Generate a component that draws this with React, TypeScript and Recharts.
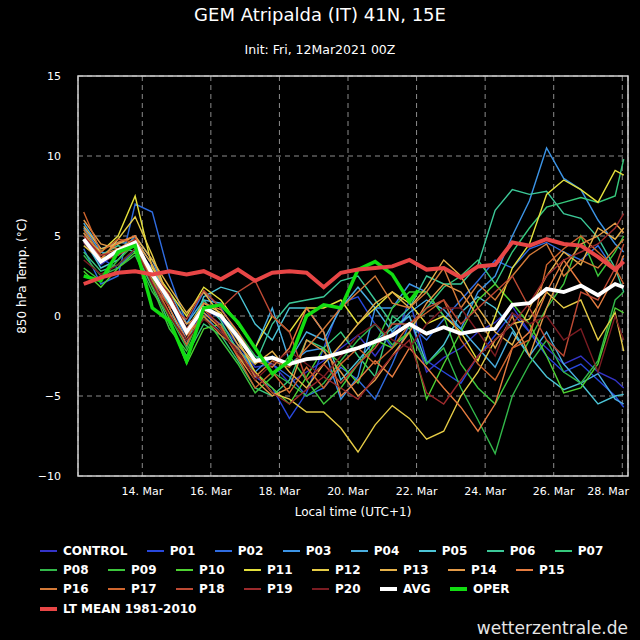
import { LineChart, Line, XAxis, YAxis, CartesianGrid, ReferenceArea, Legend } from "recharts";

// hours after the first step (12 Mar 07:00 local), 12h apart, last one +6h
const HOURS = [0, 12, 24, 36, 48, 60, 72, 84, 96, 108, 120, 132, 144, 156, 168, 180, 192, 204, 216, 228, 240, 252, 264, 276, 288, 300, 312, 324, 336, 348, 360, 372, 378];
const OPER_HOURS = [0, 12, 24, 36, 48, 60, 72, 84, 96, 108, 120, 132, 144, 156, 168, 180, 192, 204, 216, 228, 234];

const TICK_HOURS = [41, 89, 137, 185, 233, 281, 329, 377];
const TICK_LABELS = ["14. Mar", "16. Mar", "18. Mar", "20. Mar", "22. Mar", "24. Mar", "26. Mar", "28. Mar"];
const Y_TICKS = [-10, -5, 0, 5, 10, 15];

// 850 hPa temperature (°C)
const CONTROL = [4.6, 3.2, 4.0, 4.5, 2.2, 0.8, -1.2, 0.2, -0.5, -1.8, -3.2, -3.0, -4.2, -3.5, -2.8, -2.0, -1.2, -2.5, -1.0, 0.0, -3.5, -2.6, -2.0, -1.0, -0.4, 0.6, -1.0, -2.0, -3.0, -2.5, -3.5, -4.0, -4.5];
const P01 = [5.0, 3.6, 3.0, 4.2, 3.0, 1.2, -0.8, 0.5, -0.2, -1.5, -3.8, -4.5, -6.4, -4.8, -2.0, 0.8, 1.2, -0.5, -2.0, 1.0, -2.8, -3.5, -4.2, -2.5, -1.2, 0.2, -1.0, -2.5, -3.5, -3.0, -4.0, -5.0, -5.7];
const P02 = [4.2, 2.0, 2.5, 7.0, 6.5, 2.5, -0.5, 1.5, 0.5, -1.2, -2.5, -3.0, -3.8, -5.0, -4.5, -3.2, -4.0, -5.2, -3.0, -0.5, -1.5, -0.2, 1.0, 2.2, 3.5, 3.0, 4.2, 4.6, 4.0, 3.5, 4.4, 2.8, 3.6];
const P03 = [5.5, 4.0, 3.8, 5.0, 3.5, 1.0, -1.5, 0.0, -1.0, -2.0, -3.5, -2.5, -3.0, -2.2, -2.0, -5.2, -3.8, 0.5, 0.5, 2.0, 1.5, 0.0, -0.8, 1.5, 2.5, 5.0, 7.2, 10.5, 8.6, 7.9, 6.0, 4.5, 4.0];
const P04 = [5.8, 4.2, 4.6, 4.5, 2.8, 1.5, -0.5, 1.0, 0.8, -0.5, -2.0, 0.5, -2.8, -1.0, -1.5, 0.5, 1.8, 0.5, -1.0, 0.2, 1.0, 0.4, -0.8, -2.0, -3.2, -1.0, -2.5, -1.0, -3.0, -4.2, -3.6, -5.2, -5.5];
const P05 = [4.8, 3.0, 3.5, 4.8, 3.2, 0.5, -1.8, 1.2, 1.8, 1.5, -0.5, -1.5, 0.5, 0.5, -1.0, -4.0, -2.8, -1.5, -0.8, 0.0, -3.0, -1.8, 0.2, 1.2, 0.5, -0.8, -2.5, -3.8, -4.6, -4.2, -5.5, -5.0, -4.9];
const P06 = [5.2, 3.8, 4.4, 4.0, 1.8, 0.8, -1.0, 1.0, -0.3, -2.2, -3.0, -0.5, 0.8, 1.0, 1.2, 2.2, 2.5, 1.0, -0.5, 0.5, 2.5, 2.0, 2.0, 3.2, 6.6, 7.9, 7.6, 7.8, 6.4, 6.1, 4.9, 3.0, 1.5];
const P07 = [4.0, 2.8, 3.2, 4.2, 2.0, -0.5, -2.5, -0.5, -1.2, -2.8, -4.5, -5.0, -4.0, -1.5, -2.0, -1.0, -2.5, -3.8, 0.0, -0.8, 0.5, 1.8, 2.5, 3.5, 2.0, 4.0, 5.5, 6.8, 7.1, 7.4, 7.1, 7.5, 9.8];
const P08 = [3.8, 2.5, 3.0, 3.8, 1.5, 0.0, -2.0, 0.5, 0.0, -1.0, -2.5, -3.5, -4.2, -5.0, -4.2, -2.8, -1.5, -0.5, -1.8, -1.0, -3.0, -2.0, -4.5, -6.5, -8.6, -5.0, -3.0, -1.5, -3.5, -4.2, -2.8, 1.0, 1.5];
const P09 = [3.0, 2.2, 3.5, 4.5, 1.8, -0.8, -2.2, 0.0, -1.5, -3.0, -4.8, -3.8, -2.5, -4.0, -5.5, -4.5, -3.0, -1.8, 0.5, 1.5, 1.5, 0.0, -3.0, -4.5, -5.5, -3.5, -1.5, 0.5, 2.0, 5.0, 2.5, 4.0, 5.0];
const P10 = [2.8, 1.8, 3.0, 4.0, 2.4, -0.2, -3.0, -0.8, -0.5, -2.5, -3.5, -4.5, -5.5, -3.8, -2.0, -3.0, -4.2, -1.5, -2.0, -1.0, -5.2, -3.0, -1.0, 1.0, 2.0, 0.8, -0.5, -2.5, -4.8, -4.5, -3.0, 0.5, 0.2];
const P11 = [5.0, 4.0, 5.0, 7.5, 3.0, 1.5, 0.0, 1.8, 1.0, -0.5, -2.0, 0.0, -1.0, 0.5, 0.5, 1.0, -0.5, 0.5, 1.5, 0.8, -0.5, 0.0, -1.0, -2.8, 0.0, 3.0, 4.5, 7.6, 8.5, 7.9, 7.1, 9.1, 8.8];
const P12 = [4.4, 3.5, 4.8, 6.2, 3.8, 1.0, -0.8, 0.8, 0.2, -1.5, -3.5, -4.8, -5.2, -6.0, -6.0, -7.0, -8.5, -6.8, -5.6, -6.4, -7.7, -7.2, -5.0, -3.5, -1.5, -0.5, -0.2, 1.5, 0.5, 1.0, -1.5, 0.2, -2.2];
const P13 = [5.6, 4.2, 4.5, 5.0, 3.5, 1.8, 0.2, 1.5, 0.0, -1.8, -3.0, -2.2, -3.5, -4.5, -3.0, -1.8, -0.5, 0.8, 1.5, 0.5, 1.8, 3.5, 2.5, 0.5, -1.0, -1.8, 0.5, 2.5, 4.0, 3.2, 5.5, 4.8, 5.5];
const P14 = [6.0, 4.5, 4.2, 4.8, 3.2, 1.2, -0.5, 0.2, -0.8, -2.5, -4.0, -5.0, -4.5, -1.5, -2.2, -3.5, -5.0, -4.0, -2.5, -1.0, 0.8, 2.0, 1.5, 0.0, -2.0, 0.0, -2.5, 0.5, 3.0, 4.5, 5.0, 5.8, 5.2];
const P15 = [5.2, 3.6, 4.6, 5.0, 2.5, 0.5, -1.5, 0.8, 0.4, -1.0, -2.8, -3.2, -2.0, 0.5, -1.0, -5.0, -4.0, -2.8, -3.8, -2.0, -3.2, -4.5, -5.7, -7.2, -5.5, -2.0, -1.0, 1.5, 3.5, 2.0, 0.5, 2.5, 3.8];
const P16 = [5.4, 3.8, 4.2, 4.5, 2.8, 1.0, -1.2, 0.0, -1.2, -2.0, -3.8, -2.8, -3.2, -2.0, -0.8, 0.5, 1.5, 2.5, 0.8, 0.5, 1.5, 3.0, 0.5, 2.0, 1.0, 2.5, 3.8, 4.5, 2.5, 3.5, 3.0, 4.2, 4.8];
const P17 = [6.5, 4.0, 4.8, 4.6, 2.2, 0.2, -1.8, 0.4, -0.6, -2.6, -4.5, -3.5, -4.8, -3.2, -4.5, -3.0, -2.0, -3.0, -2.0, -0.5, 0.2, 1.0, -1.5, -3.0, -4.0, -2.0, -1.5, 3.2, 4.2, 5.0, 4.0, 3.0, 2.0];
const P18 = [4.6, 3.4, 3.8, 4.4, 2.0, 0.6, -0.2, 1.6, 0.5, 1.5, 2.2, 0.0, -1.0, -4.0, -3.0, -4.2, -3.0, -2.0, -0.5, -0.5, 0.5, 1.0, -0.5, 0.5, 1.5, 2.5, 0.5, -1.5, -2.5, 1.5, 1.0, 3.0, 4.5];
const P19 = [5.0, 3.8, 4.0, 4.8, 2.6, 1.4, -0.8, 0.6, -0.8, -2.4, -3.6, -4.8, -5.5, -4.6, -3.8, -4.5, -5.2, -3.8, -2.5, -1.5, -4.8, -5.5, -4.0, -2.5, -1.5, -0.5, 0.8, 2.5, 3.5, 4.0, 4.5, 5.5, 6.4];
const P20 = [3.5, 2.6, 3.2, 4.2, 2.0, 0.0, -1.5, -0.2, -1.0, -2.2, -4.0, -3.0, -2.2, -3.0, -3.8, -2.5, -1.2, -0.5, -1.5, -2.0, -0.5, 0.5, 0.5, -1.0, -2.5, 0.2, -0.5, 0.0, -1.5, -0.8, -3.5, 0.0, -1.5];
const AVG = [4.8, 3.4, 4.1, 4.6, 2.6, 1.0, -1.0, 0.5, 0.0, -1.3, -2.8, -2.6, -3.0, -2.7, -2.6, -2.3, -2.0, -1.6, -1.2, -0.5, -1.1, -0.7, -1.1, -0.9, -0.8, 0.7, 0.8, 1.7, 1.5, 1.9, 1.3, 2.0, 1.8];
const LT_MEAN = [2.0, 2.4, 2.7, 2.8, 2.6, 2.8, 2.6, 2.8, 2.3, 2.9, 2.2, 2.7, 2.8, 2.7, 1.8, 2.7, 2.9, 3.0, 3.1, 3.5, 2.9, 3.0, 2.4, 3.1, 3.2, 4.6, 4.4, 4.8, 4.5, 4.4, 3.7, 2.9, 3.4];
const OPER = [2.5, 2.2, 4.0, 4.4, 0.5, -0.3, -2.8, 0.5, 0.7, -0.4, -2.0, -3.6, -2.8, 0.0, 0.7, 0.5, 2.9, 3.4, 2.6, 0.9, 1.6];

const MEMBERS: [string, number[]][] = [
  ["CONTROL", CONTROL], ["P01", P01], ["P02", P02], ["P03", P03], ["P04", P04], ["P05", P05],
  ["P06", P06], ["P07", P07], ["P08", P08], ["P09", P09], ["P10", P10], ["P11", P11],
  ["P12", P12], ["P13", P13], ["P14", P14], ["P15", P15], ["P16", P16], ["P17", P17],
  ["P18", P18], ["P19", P19], ["P20", P20],
];

const COLORS: Record<string, string> = {
  CONTROL: "#3434c8", P01: "#2848dc", P02: "#2f6ce0", P03: "#3c94e6", P04: "#4aaee0",
  P05: "#4cc4d6", P06: "#3cc898", P07: "#36c87c", P08: "#32b84a", P09: "#3cc63c",
  P10: "#4ed232", P11: "#e4e03c", P12: "#e6cc46", P13: "#e6b24a", P14: "#e49a48",
  P15: "#e67c40", P16: "#d47a38", P17: "#d0662e", P18: "#be4a34", P19: "#9c2a2c",
  P20: "#7a1c22", AVG: "#ffffff", OPER: "#12dd12", LT: "#e84646",
};

const allHours = [...new Set([...HOURS, ...OPER_HOURS])].sort((a, b) => a - b);
const rows = allHours.map((t) => {
  const row: Record<string, number | null> = { t };
  const i = HOURS.indexOf(t);
  MEMBERS.forEach(([name, vals]) => {
    row[name] = i >= 0 ? vals[i] : null;
  });
  row.AVG = i >= 0 ? AVG[i] : null;
  row.LT = i >= 0 ? LT_MEAN[i] : null;
  const j = OPER_HOURS.indexOf(t);
  row.OPER = j >= 0 ? OPER[j] : null;
  return row;
});

const LEGEND_ROWS: [string, string, boolean][][] = [
  ["CONTROL", "P01", "P02", "P03", "P04", "P05", "P06", "P07"].map((n) => [n, n, false]),
  ["P08", "P09", "P10", "P11", "P12", "P13", "P14", "P15"].map((n) => [n, n, false]),
  [...["P16", "P17", "P18", "P19", "P20"].map((n) => [n, n, false] as [string, string, boolean]), ["AVG", "AVG", true], ["OPER", "OPER", true]],
  [["LT MEAN 1981-2010", "LT", true]],
];

const FONT = "'DejaVu Sans', sans-serif";

const LegendBox = () => (
  <div>
    {LEGEND_ROWS.map((row, r) => (
      <div key={r} style={{ display: "flex", height: 19.3, alignItems: "center" }}>
        {row.map(([label, key, thick]) => (
          <div key={key} style={{ display: "flex", alignItems: "center", marginRight: 19.5 }}>
            <span style={{ display: "inline-block", width: 17, height: thick ? 4 : 2, background: COLORS[key], marginRight: 6 }} />
            <span style={{ color: "#fff", fontWeight: "bold", fontSize: 12, fontFamily: FONT, whiteSpace: "nowrap" }}>{label}</span>
          </div>
        ))}
      </div>
    ))}
  </div>
);

const fmtY = (v: number) => (v < 0 ? "\u2212" + Math.abs(v) : String(v));
const fmtX = (v: number) => TICK_LABELS[TICK_HOURS.indexOf(v)] ?? "";

const XTick = (props: any) => {
  const { x, y, payload } = props;
  const last = payload.value === TICK_HOURS[TICK_HOURS.length - 1];
  return (
    <text x={last ? 629 : x} y={y} dy="0.71em" textAnchor={last ? "end" : "middle"} fill="#fff" fontSize={11} fontFamily={FONT}>
      {fmtX(payload.value)}
    </text>
  );
};

export default function App() {
  return (
    <div style={{ position: "absolute", left: 0, top: 0, width: 640, height: 640, background: "#000", fontFamily: FONT, overflow: "hidden" }}>
      <LineChart width={640} height={640} data={rows} margin={{ top: 76, right: 12, left: 28, bottom: 134 }}>
        <CartesianGrid stroke="#8c8c8c" strokeDasharray="5 4" strokeWidth={1} />
        <XAxis
          dataKey="t"
          type="number"
          domain={[-4, 381]}
          ticks={TICK_HOURS}
          allowDataOverflow
          height={30}
          axisLine={false}
          tickLine={false}
          tickMargin={5}
          tick={<XTick />}
        />
        <YAxis
          type="number"
          domain={[-10, 15]}
          ticks={Y_TICKS}
          tickFormatter={fmtY}
          allowDataOverflow
          width={50}
          axisLine={false}
          tickLine={false}
          tickMargin={11}
          tick={{ fill: "#fff", fontSize: 11, fontFamily: FONT }}
        />
        <ReferenceArea x1={-4} x2={381} y1={-10} y2={15} fill="none" stroke="#d0d0d0" strokeWidth={1.5} />
        {MEMBERS.map(([name]) => (
          <Line key={name} dataKey={name} stroke={COLORS[name]} strokeWidth={1.4} dot={false} connectNulls isAnimationActive={false} />
        ))}
        <Line dataKey="AVG" stroke={COLORS.AVG} strokeWidth={3.8} dot={false} connectNulls isAnimationActive={false} />
        <Line dataKey="OPER" stroke={COLORS.OPER} strokeWidth={3.5} dot={false} connectNulls isAnimationActive={false} />
        <Line dataKey="LT" stroke={COLORS.LT} strokeWidth={4} dot={false} connectNulls isAnimationActive={false} />
        <Legend
          layout="horizontal"
          verticalAlign="middle"
          align="center"
          content={() => <LegendBox />}
          wrapperStyle={{ top: 541, left: 40, width: 600, height: 80 }}
        />
      </LineChart>
      <div style={{ position: "absolute", top: 5, left: 0, width: 640, textAlign: "center", color: "#fff", fontSize: 18, lineHeight: "20px" }}>
        GEM Atripalda (IT) 41N, 15E
      </div>
      <div style={{ position: "absolute", top: 42, left: 0, width: 640, textAlign: "center", color: "#fff", fontSize: 12.5, lineHeight: "16px" }}>
        Init: Fri, 12Mar2021 00Z
      </div>
      <div style={{ position: "absolute", top: 504, left: 253, width: 200, textAlign: "center", color: "#fff", fontSize: 12, lineHeight: "16px" }}>
        Local time (UTC+1)
      </div>
      <div style={{ position: "absolute", top: 268, left: -78, width: 200, textAlign: "center", color: "#fff", fontSize: 12, lineHeight: "16px", transform: "rotate(-90deg)" }}>
        850 hPa Temp. (°C)
      </div>
      <div style={{ position: "absolute", top: 617, right: 12, color: "#e6e6e6", fontSize: 17, lineHeight: "22px" }}>
        wetterzentrale.de
      </div>
    </div>
  );
}
